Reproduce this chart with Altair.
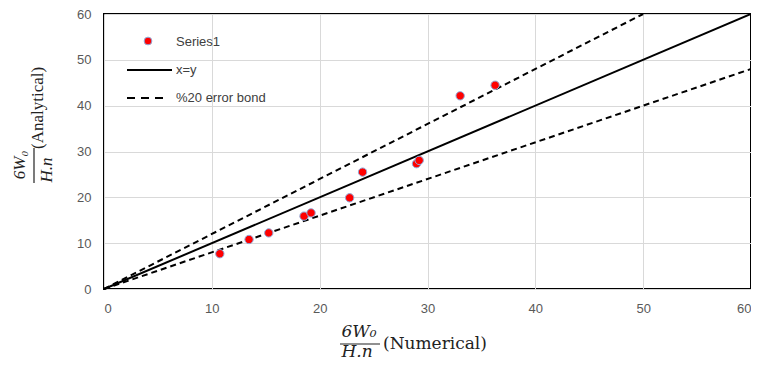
import altair as alt
import pandas as pd

# Data
numerical = [10.74, 13.45, 15.28, 18.55, 19.2, 22.78, 23.98, 28.98, 29.23, 33.03, 36.27]
analytical = [7.7, 10.8, 12.24, 15.9, 16.6, 19.9, 25.5, 27.35, 28.06, 42.15, 44.46]

xy_x = [0, 60]
xy_y = [0, 60]
upper_x = [0, 50]
upper_y = [0, 60]
lower_x = [0, 60]
lower_y = [0, 48]

tick_values = [0, 10, 20, 30, 40, 50, 60]

pts = pd.DataFrame({"x": numerical, "y": analytical})
line_df = pd.DataFrame({"x": xy_x, "y": xy_y})
upper_df = pd.DataFrame({"x": upper_x, "y": upper_y})
lower_df = pd.DataFrame({"x": lower_x, "y": lower_y})
one = pd.DataFrame({"a": [0]})

xs = alt.Scale(domain=[0, 60], nice=False, zero=False)
ys = alt.Scale(domain=[0, 60], nice=False, zero=False)

x_axis = alt.Axis(values=tick_values, grid=True, gridColor="#d9d9d9", ticks=False,
                  domain=False, labelColor="#595959", labelFontSize=13,
                  labelFont="Liberation Sans", labelPadding=13, title=None)
y_axis = alt.Axis(values=tick_values, grid=True, gridColor="#d9d9d9", ticks=False,
                  domain=False, labelColor="#595959", labelFontSize=13,
                  labelFont="Liberation Sans", labelPadding=13, title=None)

base_x = alt.X("x:Q", scale=xs, axis=x_axis)
base_y = alt.Y("y:Q", scale=ys, axis=y_axis)

diag = alt.Chart(line_df).mark_line(color="black", strokeWidth=2).encode(
    x=base_x, y=base_y)
upper = alt.Chart(upper_df).mark_line(color="black", strokeWidth=2, strokeDash=[6, 4]).encode(
    x=alt.X("x:Q", scale=xs), y=alt.Y("y:Q", scale=ys))
lower = alt.Chart(lower_df).mark_line(color="black", strokeWidth=2, strokeDash=[6, 4]).encode(
    x=alt.X("x:Q", scale=xs), y=alt.Y("y:Q", scale=ys))
points = alt.Chart(pts).mark_point(filled=True, fill="#ff0000", stroke="#8eaadb",
                                   strokeWidth=1, size=70, opacity=1, shape="circle").encode(
    x=alt.X("x:Q", scale=xs), y=alt.Y("y:Q", scale=ys))

# Legend (inside plot, top-left)
leg_font = dict(fontSize=13, font="Liberation Sans", color="#404040", align="left", baseline="middle")
leg_pt = alt.Chart(one).mark_point(filled=True, fill="#ff0000", stroke="#8eaadb", strokeWidth=1,
                                   size=60, opacity=1).encode(x=alt.value(44), y=alt.value(27))
leg_t1 = alt.Chart(one).mark_text(text="Series1", **leg_font).encode(x=alt.value(72), y=alt.value(28))
leg_l2 = alt.Chart(one).mark_rule(color="black", strokeWidth=2).encode(
    x=alt.value(23), x2=alt.value(68), y=alt.value(56))
leg_t2 = alt.Chart(one).mark_text(text="x=y", **leg_font).encode(x=alt.value(72), y=alt.value(56))
leg_l3 = alt.Chart(one).mark_rule(color="black", strokeWidth=2, strokeDash=[8, 6]).encode(
    x=alt.value(23), x2=alt.value(64), y=alt.value(84))
leg_t3 = alt.Chart(one).mark_text(text="%20 error bond", **leg_font).encode(x=alt.value(72), y=alt.value(84))

# Axis titles drawn as fractions
xfont = dict(font="DejaVu Serif", fontSize=17, color="#222222", baseline="middle")
yfont = dict(font="Liberation Serif", fontSize=17, color="#222222", baseline="middle")
xt_num = alt.Chart(one).mark_text(text="6W₀", fontStyle="italic", align="center", **xfont).encode(
    x=alt.value(255), y=alt.value(318))
xt_bar = alt.Chart(one).mark_rule(color="#222222", strokeWidth=1.2).encode(
    x=alt.value(236), x2=alt.value(276), y=alt.value(330))
xt_den = alt.Chart(one).mark_text(text="H.n", fontStyle="italic", align="center", **xfont).encode(
    x=alt.value(253), y=alt.value(338))
xt_word = alt.Chart(one).mark_text(text="(Numerical)", align="left", **xfont).encode(
    x=alt.value(279), y=alt.value(330))

yt_num = alt.Chart(one).mark_text(text="6W₀", fontStyle="italic", align="center", angle=270, **yfont).encode(
    x=alt.value(-84), y=alt.value(151))
yt_bar = alt.Chart(one).mark_rule(color="#222222", strokeWidth=1.2).encode(
    x=alt.value(-70), y=alt.value(134), y2=alt.value(169))
yt_den = alt.Chart(one).mark_text(text="H.n", fontStyle="italic", align="center", angle=270, **yfont).encode(
    x=alt.value(-57), y=alt.value(156))
yt_word = alt.Chart(one).mark_text(text="(Analytical)", align="left", angle=270, **yfont).encode(
    x=alt.value(-66), y=alt.value(135))

chart = alt.layer(
    diag, upper, lower, points,
    leg_pt, leg_t1, leg_l2, leg_t2, leg_l3, leg_t3,
    xt_num, xt_bar, xt_den, xt_word,
    yt_num, yt_bar, yt_den, yt_word,
).properties(
    width=647, height=275,
    autosize=alt.AutoSizeParams(type="none"),
    padding={"left": 96, "top": 6, "right": 0, "bottom": 72},
).configure_view(
    stroke="black", strokeWidth=2
)

chart.save("out.html", embed_options={"renderer": "svg", "actions": False})
